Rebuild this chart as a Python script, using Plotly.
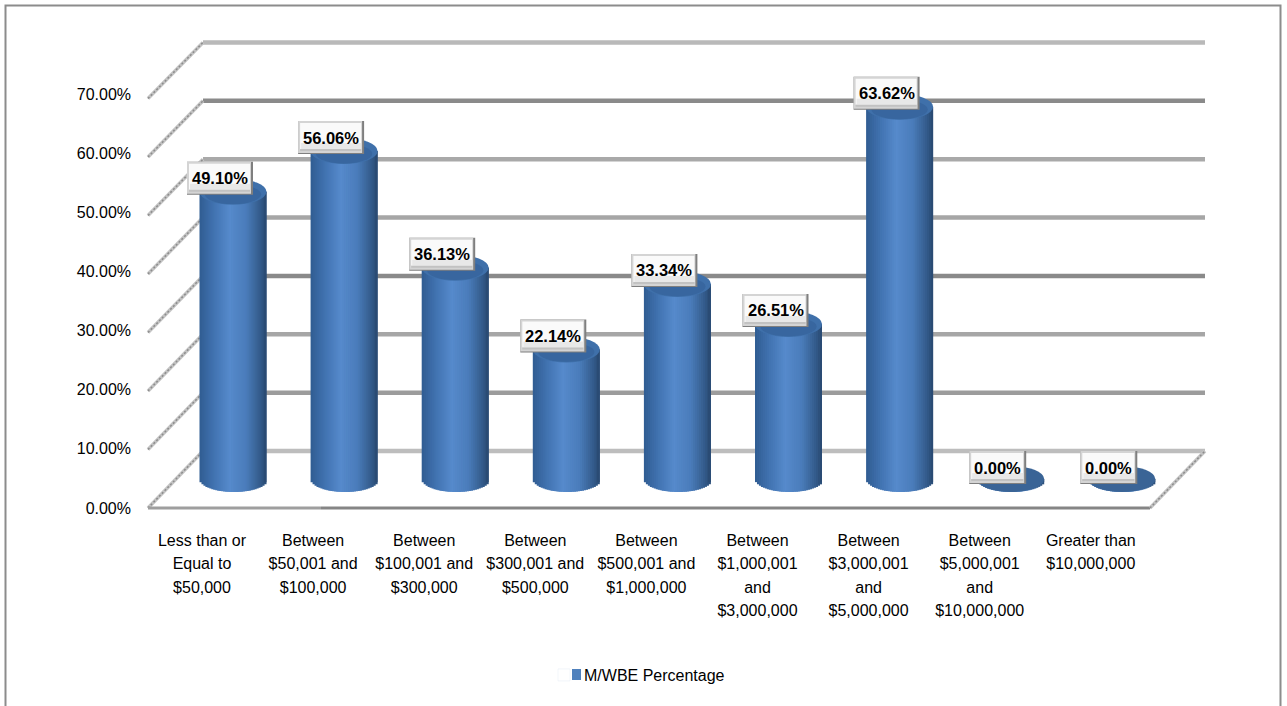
import plotly.graph_objects as go
import math

categories = ["Less than or<br>Equal to<br>$50,000", "Between<br>$50,001 and<br>$100,000",
              "Between<br>$100,001 and<br>$300,000", "Between<br>$300,001 and<br>$500,000",
              "Between<br>$500,001 and<br>$1,000,000", "Between<br>$1,000,001<br>and<br>$3,000,000",
              "Between<br>$3,000,001<br>and<br>$5,000,000", "Between<br>$5,000,001<br>and<br>$10,000,000",
              "Greater than<br>$10,000,000"]
values = [49.10, 56.06, 36.13, 22.14, 33.34, 26.51, 63.62, 0.00, 0.00]
y_ticks = [0, 10, 20, 30, 40, 50, 60, 70]
series_name = "M/WBE Percentage"
wall_colors = ["#bdbdbd", "#9c9c9c", "#a6a6a6", "#8a8a8a", "#a6a6a6", "#a9a9a9", "#8a8a8a", "#b9b9b9"]

W, H = 1287, 706
L, R, T, B = 132, 1210, 30, 527
FONT = "Liberation Sans"
TSIZE = 16

def xval(px): return (px - 195) / 111.1
def rng(zero_px, scale): return [(zero_px - B) / scale, (zero_px - T) / scale]
LAB0, LABS = 508, 5.914
WALL0, WALLS = 451, 5.836
BAR0, BARS = 479, 5.85
def wall_from_px(py): return (WALL0 - py) / WALLS

BAR_OFF = 38 / 111.1
BAR_W = 67 / 111.1
RY = 13 / BARS
TICK_OFF = 7 / 111.1

fig = go.Figure()

fig.add_trace(go.Scatter(x=[xval(L)] * len(y_ticks), y=y_ticks, mode="markers", marker=dict(opacity=0),
                         showlegend=False, hoverinfo="skip", yaxis="y", xaxis="x"))

for v, c in zip(y_ticks, wall_colors):
    fig.add_trace(go.Scatter(x=[xval(203), xval(1205)], y=[v, v], mode="lines",
                             line=dict(color=c, width=4.5), showlegend=False, hoverinfo="skip", yaxis="y2"))
    y_front = wall_from_px(508 - 5.85 * v)
    fig.add_trace(go.Scatter(x=[xval(148), xval(203)], y=[y_front, v], mode="lines",
                             line=dict(color="#c4c4c4", width=3.5), showlegend=False, hoverinfo="skip", yaxis="y2"))
    fig.add_trace(go.Scatter(x=[xval(148), xval(203)], y=[y_front, v], mode="lines",
                             line=dict(color="#8c8c8c", width=1.5, dash="2px 2px"), showlegend=False,
                             hoverinfo="skip", yaxis="y2"))
yf = wall_from_px(508)
fig.add_trace(go.Scatter(x=[xval(321), xval(1150)], y=[yf, yf], mode="lines", line=dict(color="#858585", width=3),
                         showlegend=False, hoverinfo="skip", yaxis="y2"))
fig.add_trace(go.Scatter(x=[xval(148), xval(321)], y=[yf, yf], mode="lines", line=dict(color="#9e9e9e", width=3),
                         showlegend=False, hoverinfo="skip", yaxis="y2"))
fig.add_trace(go.Scatter(x=[xval(1150), xval(1205)], y=[yf, 0], mode="lines", line=dict(color="#c4c4c4", width=3.5),
                         showlegend=False, hoverinfo="skip", yaxis="y2"))
fig.add_trace(go.Scatter(x=[xval(1150), xval(1205)], y=[yf, 0], mode="lines",
                         line=dict(color="#8c8c8c", width=1.5, dash="2px 2px"), showlegend=False,
                         hoverinfo="skip", yaxis="y2"))

stops = [(-1, (48, 92, 146)), (-0.55, (66, 116, 178)), (-0.1, (86, 138, 204)), (0.4, (74, 124, 186)),
         (0.8, (52, 92, 140)), (1, (40, 72, 112))]
def shade(t):
    for (a, ca), (b, cb) in zip(stops, stops[1:]):
        if t <= b:
            f = (t - a) / (b - a)
            return "rgb(%d,%d,%d)" % tuple(round(p + (q - p) * f) for p, q in zip(ca, cb))
    return "rgb(40,72,112)"

N = 34
x_pos = [i + BAR_OFF for i in range(len(values))]
for k in range(N):
    t0 = -1 + 2 * k / N
    tm = t0 + 1 / N
    base_off = -RY * math.sqrt(max(0, 1 - tm * tm))
    # each strip runs under the next one, so no seams show
    span = min(4 / N, 1 - t0)
    fig.add_trace(go.Bar(x=x_pos, y=[v - base_off for v in values], base=[base_off] * len(values),
                         offset=t0 * BAR_W / 2, width=span * BAR_W / 2,
                         marker=dict(color=shade(tm), line=dict(width=0)),
                         name=series_name, showlegend=False, yaxis="y3",
                         hovertemplate="%{customdata}<extra></extra>", customdata=values))

fig.add_trace(go.Bar(x=[None], y=[None], name=series_name, marker=dict(color="rgba(79,129,189,0)"), yaxis="y3",
                     showlegend=True))

shapes = [dict(type="rect", xref="paper", yref="paper", x0=5.5 / W, x1=1280.5 / W, y0=-0.05, y1=1 - 5.5 / H,
               line=dict(color="#8c8c8c", width=2), layer="below"),
          dict(type="rect", xref="paper", yref="paper", x0=572 / W, x1=581 / W, y0=1 - 680 / H, y1=1 - 669 / H,
               fillcolor="#4f81bd", line=dict(width=0))]
annos = []
for x, v in zip(x_pos, values):
    shapes.append(dict(type="circle", xref="x", yref="y3", x0=x - BAR_W / 2, x1=x + BAR_W / 2,
                       y0=v - RY, y1=v + RY, fillcolor="#3f70aa" if v > 0 else "#3a6496", line=dict(width=0)))
    if v > 0:
        shapes.append(dict(type="circle", xref="x", yref="y3", x0=x - BAR_W * 0.42, x1=x + BAR_W * 0.42,
                           y0=v - RY * 0.95, y1=v + RY * 0.55, fillcolor="#38669f", line=dict(width=0)))

def box(x, v, l, r, b, t, color):
    return dict(type="rect", xref="x", yref="y3", xsizemode="pixel", ysizemode="pixel", xanchor=x, yanchor=v,
                x0=l, x1=r, y0=b, y1=t, fillcolor=color, line=dict(width=0))

for x, v in zip(x_pos, values):
    hw = 33 if v >= 10 else 28.5
    cx, b, t = -13, -3 if v > 0 else -5, 30 if v > 0 else 28
    shapes += [box(x, v, cx - hw, cx + hw, b, t, "#7f7f7f"),
               box(x, v, cx - hw, cx + hw - 2, b + 1, t, "#d4d4d4"),
               box(x, v, cx - hw + 2, cx + hw - 3, b + 5, t - 2, "#fafafa"),
               box(x, v, cx - hw + 3, cx + hw - 3, b + 5, b + 11, "#e8e8e8"),
               box(x, v, cx - hw + 2, cx + hw - 3, b + 3, b + 5, "#c2c2c2")]
    annos.append(dict(x=x, y=v, xref="x", yref="y3", xshift=-13, yshift=(t + b) / 2, text="%.2f%%" % v, showarrow=False,
                      font=dict(family=FONT, size=16.5, color="#000000", weight="bold")))

# tick font sets the line pitch (18 * 1.3); the span sets the glyph size
tick_text = ["<br>".join('<span style="font-size:%gpx">%s</span>' % (TSIZE, part) for part in c.split("<br>"))
             for c in categories]

fig.update_layout(
    width=W, height=H, margin=dict(l=0, r=0, t=0, b=0), paper_bgcolor="white", plot_bgcolor="rgba(0,0,0,0)",
    barmode="overlay", shapes=shapes, annotations=annos, font=dict(family=FONT, color="#000000", size=TSIZE),
    xaxis=dict(domain=[L / W, R / W], range=[xval(L), xval(R)], tickmode="array",
               tickvals=[i + TICK_OFF for i in range(len(categories))], ticktext=tick_text, showgrid=False,
               zeroline=False, showline=False, ticks="", ticklabelposition="outside", tickangle=0,
               tickfont=dict(size=18)),
    yaxis=dict(domain=[1 - B / H, 1 - T / H], range=rng(LAB0, LABS), tickmode="array", tickvals=y_ticks,
               ticktext=["%.2f%%" % v for v in y_ticks], showgrid=False, zeroline=False, showline=False, ticks="",
               tickfont=dict(size=TSIZE)),
    yaxis2=dict(domain=[1 - B / H, 1 - T / H], range=rng(WALL0, WALLS), overlaying="y", visible=False),
    yaxis3=dict(domain=[1 - B / H, 1 - T / H], range=rng(BAR0, BARS), overlaying="y", visible=False),
    legend=dict(x=544 / W, y=1 - 675 / H, xanchor="left", yanchor="middle", bgcolor="rgba(0,0,0,0)",
                font=dict(size=TSIZE, family=FONT)),
    hovermode=False,
)
fig.write_html("out.html", config=dict(displayModeBar=False),
               post_script="document.body.style.margin='0';document.body.style.overflow='hidden';")
